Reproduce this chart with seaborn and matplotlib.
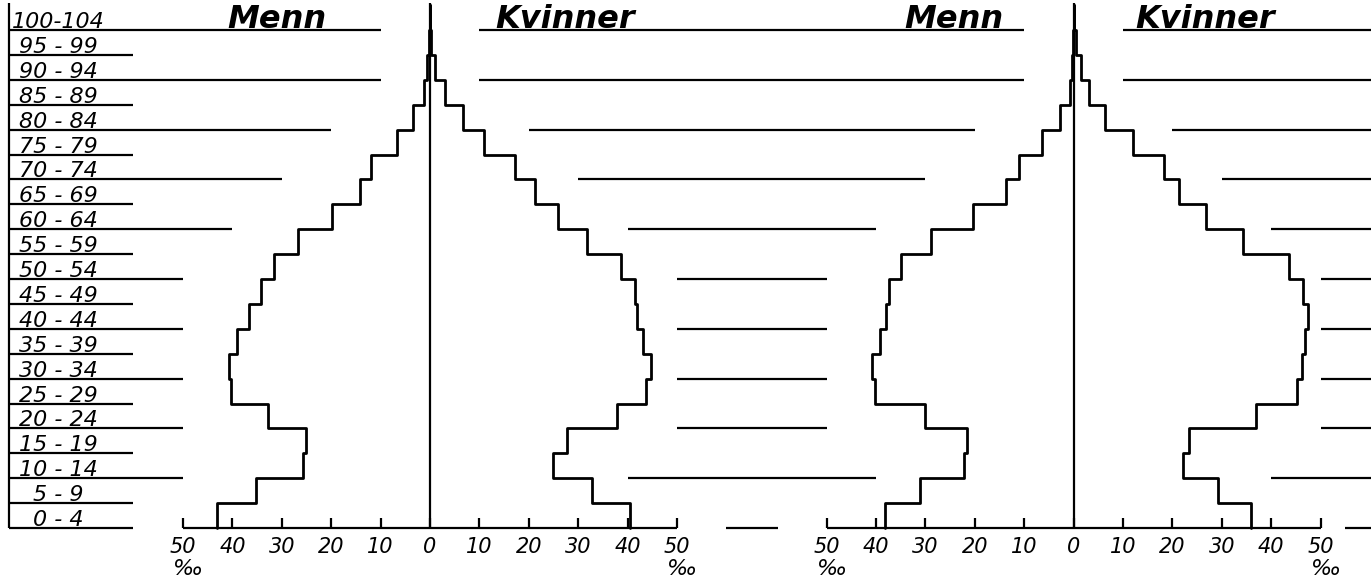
import numpy as np
import seaborn as sns
import matplotlib.pyplot as plt

# age groups, bottom to top (per mille of total population)
age_labels = ['0 - 4', '5 - 9', '10 - 14', '15 - 19', '20 - 24', '25 - 29', '30 - 34',
              '35 - 39', '40 - 44', '45 - 49', '50 - 54', '55 - 59', '60 - 64', '65 - 69',
              '70 - 74', '75 - 79', '80 - 84', '85 - 89', '90 - 94', '95 - 99', '100-104']
age_lo = np.arange(0, 105, 5)

# left pyramid
men_a = [43.1, 35.2, 25.7, 25.1, 32.8, 40.3, 40.7, 39.1, 36.6, 34.2, 31.6,
         26.7, 19.8, 14.2, 11.9, 6.7, 3.4, 1.2, 0.6, 0.3, 0.0]
women_a = [40.5, 32.8, 24.9, 27.7, 37.9, 43.7, 44.7, 43.1, 41.9, 41.5, 38.7,
           31.8, 25.9, 21.3, 17.2, 10.9, 6.7, 3.0, 1.0, 0.3, 0.0]

# right pyramid
men_b = [38.2, 31.2, 22.2, 21.6, 30.0, 40.2, 40.8, 39.3, 38.0, 37.3, 35.0,
         28.9, 20.4, 13.7, 11.1, 6.4, 2.7, 0.8, 0.4, 0.2, 0.0]
women_b = [35.9, 29.2, 22.1, 23.3, 36.9, 45.2, 46.2, 46.8, 47.4, 46.4, 43.6,
           34.3, 26.8, 21.3, 18.2, 12.1, 6.4, 3.1, 1.4, 0.4, 0.0]

tick_values = [50, 40, 30, 20, 10, 0, 10, 20, 30, 40, 50]

# where the decade guide lines stop short of each half pyramid (ages 10..100)
decades = np.arange(10, 110, 10)
gap_a_men = [50, 50, 50, 50, 50, 40, 30, 20, 10, 10]
gap_a_women = [40, 50, 50, 50, 50, 40, 30, 20, 10, 10]
gap_b_men = [40, 50, 50, 50, 50, 40, 30, 20, 10, 10]
gap_b_women = [40, 50, 50, 50, 50, 40, 30, 20, 10, 10]

OFFSET = 130.3          # centre of the right pyramid
PX_X, PX_Y = 4.94, 4.98  # pixels per unit
X0, Y0 = 430, 528       # pixel position of left centre / age 0
XMIN, XMAX = -X0 / PX_X, (1371 - X0) / PX_X
YMIN, YMAX = -(582 - Y0) / PX_Y, Y0 / PX_Y
COL_X = (9 - X0) / PX_X
COL_END = (133 - X0) / PX_X

sns.set_theme(style='white')
plt.rcParams['font.family'] = ['DejaVu Sans']
plt.rcParams['text.color'] = 'black'

fig = plt.figure(figsize=(13.71, 5.82), dpi=100)
ax = fig.add_axes([0, 0, 1, 1])
ax.set_xlim(XMIN, XMAX)
ax.set_ylim(YMIN, YMAX)
ax.axis('off')

lw_line = 1.6
lw_step = 2.0


def step_outline(values, sign, centre):
    v = np.asarray(values)[::-1]
    xs = centre + sign * np.repeat(v, 2)
    ys = np.column_stack([age_lo + 5, age_lo])[::-1].ravel()
    sns.lineplot(x=xs, y=ys, sort=False, estimator=None, color='black',
                 lw=lw_step, ax=ax)


def draw_pyramid(men, women, centre):
    step_outline(men, -1, centre)
    step_outline(women, 1, centre)
    ax.vlines(centre, 0, 105.4, color='black', lw=lw_line)
    ax.hlines(0, centre - 50, centre + 50, color='black', lw=lw_line)
    xt = centre + np.array([-50, -40, -30, -20, -10, 0, 10, 20, 30, 40, 50])
    ax.vlines(xt, 0, 2, color='black', lw=lw_line)
    for x, t in zip(xt, tick_values):
        ax.text(x, -3.9, str(t), ha='center', va='center', fontsize=15,
                style='italic')
    for x in (centre - 50, centre + 50):
        ax.text(x + 1, -8.3, '‰', ha='center', va='center', fontsize=16,
                style='italic')


draw_pyramid(men_a, women_a, 0)
draw_pyramid(men_b, women_b, OFFSET)

# label column
ax.vlines(COL_X, 0, 105.5, color='black', lw=lw_line)
for lo, lab in zip(age_lo, age_labels):
    ax.text(-75.3, lo + 0.4, lab, ha='center', va='baseline', fontsize=16,
            style='italic')
ax.hlines(age_lo[1::2], COL_X, COL_END, color='black', lw=lw_line)
ax.hlines(0, COL_X, COL_END, color='black', lw=lw_line)

# decade guide lines
for a, ga, wa, gb, wb in zip(decades, gap_a_men, gap_a_women, gap_b_men, gap_b_women):
    ax.hlines(a, COL_X, -ga, color='black', lw=lw_line)
    ax.hlines(a, wa, OFFSET - gb, color='black', lw=lw_line)
    ax.hlines(a, OFFSET + wb, XMAX, color='black', lw=lw_line)
ax.hlines(0, 60, 70.5, color='black', lw=lw_line)
ax.hlines(0, OFFSET + 55, XMAX, color='black', lw=lw_line)

# titles
for x, t in [(-31, 'Menn'), (27.4, 'Kvinner'),
             (OFFSET - 24.3, 'Menn'), (OFFSET + 26.6, 'Kvinner')]:
    ax.text(x, 100.5, t, ha='center', va='baseline', fontsize=23,
            style='italic', fontweight='bold')

fig.savefig('out.png', dpi=100)
